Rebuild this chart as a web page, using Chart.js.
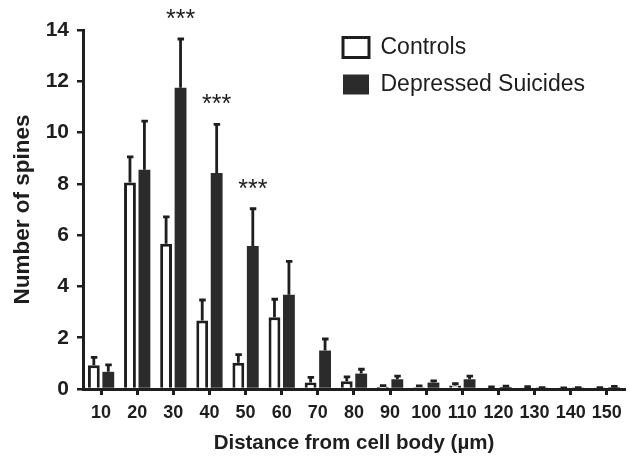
<!DOCTYPE html>
<html>
<head>
<meta charset="utf-8">
<script src="https://cdn.jsdelivr.net/npm/chart.js@4.4.0/dist/chart.umd.min.js"></script>
<style>
  html, body { margin: 0; padding: 0; background: #fff; }
</style>
</head>
<body>
<canvas id="spinesChart" width="629" height="459"></canvas>
<script>
// Distance bins (µm) and spine counts
const distances = ["10", "20", "30", "40", "50", "60", "70", "80", "90", "100", "110", "120", "130", "140", "150"];
const controlsMean = [0.93, 8.05, 5.66, 2.67, 1.02, 2.8, 0.25, 0.3, 0.08, 0.07, 0.14, 0.05, 0.06, 0.02, 0.03];
const controlsSem = [0.3, 1.0, 1.05, 0.8, 0.32, 0.7, 0.2, 0.17, 0.05, 0.05, 0.07, 0.03, 0.03, 0.02, 0.02];
const depressedMean = [0.67, 8.55, 11.75, 8.42, 5.58, 3.68, 1.5, 0.6, 0.38, 0.25, 0.38, 0.08, 0.03, 0.03, 0.07];
const depressedSem = [0.27, 1.9, 1.9, 1.9, 1.45, 1.3, 0.45, 0.17, 0.12, 0.07, 0.12, 0.03, 0.02, 0.02, 0.03];
const significance = ["", "", "***", "***", "***", "", "", "", "", "", "", "", "", "", ""];

const ink = "#1e1e1e";
const barDark = "#2b2b2b";
const fontFamily = "'Liberation Sans', Arial, sans-serif";

// Draw SEM whiskers (upward only) and significance stars
const errorBars = {
  id: "errorBars",
  afterDatasetsDraw(chart) {
    const ctx = chart.ctx;
    const yScale = chart.scales.y;
    const sems = [controlsSem, depressedSem];
    ctx.save();
    ctx.strokeStyle = ink;
    ctx.lineWidth = 2.8;
    chart.data.datasets.forEach((ds, di) => {
      const meta = chart.getDatasetMeta(di);
      meta.data.forEach((bar, i) => {
        const err = sems[di][i];
        if (!err) return;
        const top = yScale.getPixelForValue(ds.data[i] + err);
        ctx.beginPath();
        ctx.moveTo(bar.x, bar.y);
        ctx.lineTo(bar.x, top);
        ctx.moveTo(bar.x - 3, top);
        ctx.lineTo(bar.x + 3.5, top);
        ctx.stroke();
      });
    });

    // stars over the depressed bars
    const meta = chart.getDatasetMeta(1);
    ctx.fillStyle = ink;
    ctx.font = "25px " + fontFamily;
    ctx.textAlign = "center";
    ctx.textBaseline = "alphabetic";
    significance.forEach((s, i) => {
      if (!s) return;
      const top = yScale.getPixelForValue(depressedMean[i] + depressedSem[i]);
      ctx.fillText(s, meta.data[i].x, top - 12);
    });
    ctx.restore();
  }
};

// Move the legend into the upper right of the plot
const legendSpot = {
  id: "legendSpot",
  afterLayout(chart) {
    const lg = chart.legend;
    if (!lg) return;
    const w = lg.width;
    const h = lg.height;
    lg.left = 329;
    lg.top = 22;
    lg.right = lg.left + w;
    lg.bottom = lg.top + h;
  }
};

const ctx = document.getElementById("spinesChart").getContext("2d");
new Chart(ctx, {
  type: "bar",
  data: {
    labels: distances,
    datasets: [
      {
        label: "Controls",
        data: controlsMean,
        backgroundColor: "#ffffff",
        borderColor: ink,
        borderWidth: 3,
        categoryPercentage: 0.8,
        barPercentage: 0.82,
      },
      {
        label: "Depressed Suicides",
        data: depressedMean,
        backgroundColor: barDark,
        borderColor: barDark,
        borderWidth: 0,
        categoryPercentage: 0.8,
        barPercentage: 0.82,
      },
    ],
  },
  options: {
    responsive: false,
    animation: false,
    layout: {
      padding: { top: 30, right: 4, bottom: 0, left: 0 },
    },
    plugins: {
      tooltip: { enabled: false },
      legend: {
        position: "chartArea",
        align: "start",
        labels: {
          boxWidth: 26,
          boxHeight: 20,
          padding: 14,
          color: ink,
          font: { family: fontFamily, size: 23 },
        },
      },
    },
    scales: {
      x: {
        z: 1,
        afterFit(scale) {
          scale.height = 70;
        },
        border: { display: true, width: 3, color: ink },
        grid: {
          drawOnChartArea: false,
          offset: false,
          tickLength: 6,
          lineWidth: 3,
          color: ink,
        },
        ticks: {
          autoSkip: false,
          maxRotation: 0,
          padding: 7,
          color: ink,
          font: { family: fontFamily, size: 18, weight: "bold" },
        },
        title: {
          display: true,
          text: "Distance from cell body (µm)",
          color: ink,
          padding: { top: 0, bottom: 3 },
          font: { family: fontFamily, size: 20.5, weight: "bold" },
        },
      },
      y: {
        min: 0,
        max: 14,
        afterFit(scale) {
          scale.width = 83;
        },
        border: { display: true, width: 3, color: ink },
        grid: {
          drawOnChartArea: false,
          tickLength: 6,
          lineWidth: 2.5,
          color: ink,
        },
        ticks: {
          stepSize: 2,
          padding: 8,
          color: ink,
          font: { family: fontFamily, size: 21, weight: "bold" },
        },
        title: {
          display: true,
          text: "Number of spines",
          color: ink,
          padding: { top: 9, bottom: 0 },
          font: { family: fontFamily, size: 22.5, weight: "bold" },
        },
      },
    },
  },
  plugins: [errorBars, legendSpot],
});
</script>
</body>
</html>
